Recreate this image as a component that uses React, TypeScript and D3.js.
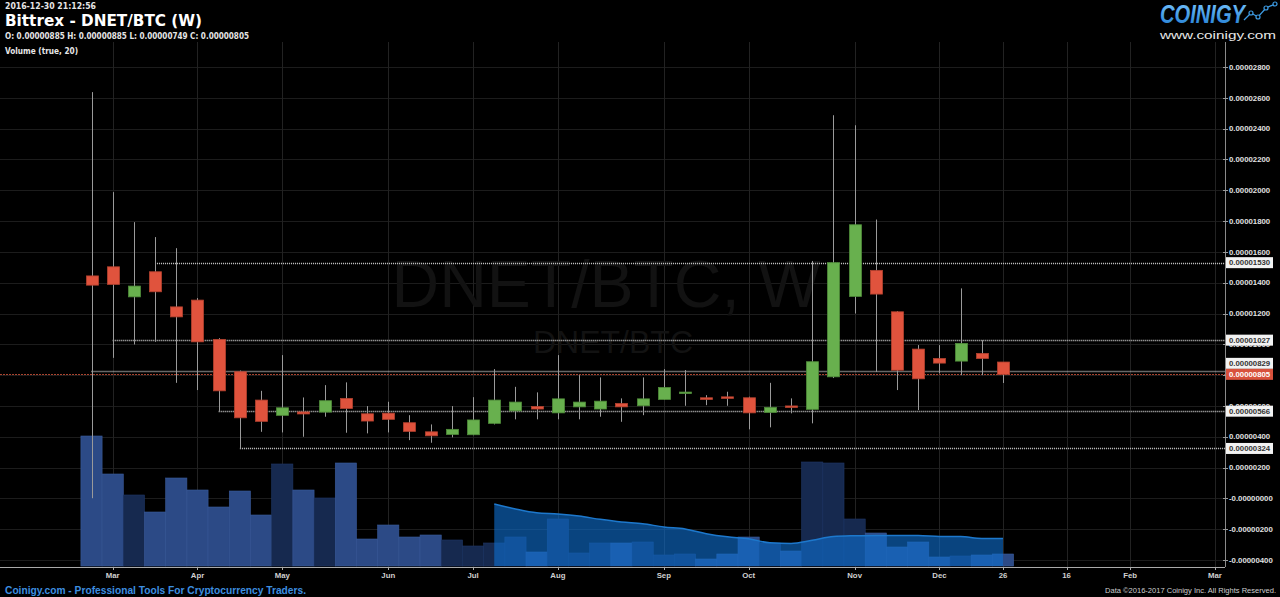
import React from "react";
import * as d3 from "d3";

// ---------- DATA (prices in units of 1e-8 BTC) ----------
const weeks = [
  "2016-02-29","2016-03-07","2016-03-14","2016-03-21","2016-03-28","2016-04-04","2016-04-11","2016-04-18",
  "2016-04-25","2016-05-02","2016-05-09","2016-05-16","2016-05-23","2016-05-30","2016-06-06","2016-06-13",
  "2016-06-20","2016-06-27","2016-07-04","2016-07-11","2016-07-18","2016-07-25","2016-08-01","2016-08-08",
  "2016-08-15","2016-08-22","2016-08-29","2016-09-05","2016-09-12","2016-09-19","2016-09-26","2016-10-03",
  "2016-10-10","2016-10-17","2016-10-24","2016-10-31","2016-11-07","2016-11-14","2016-11-21","2016-11-28",
  "2016-12-05","2016-12-12","2016-12-19","2016-12-26",
];
const opens = [1444,1503,1308,1471,1243,1287,1032,822,638,539,561,560,649,549,553,491,432,415,413,487,568,596,555,594,580,616,601,642,681,653,659,653,558,600,578,789,1311,1480,1211,969,908,891,941,885];
const highs = [2637,1988,1793,1696,1624,1300,1040,830,698,930,655,735,753,599,627,540,480,599,657,839,724,688,930,800,785,649,785,839,833,670,692,660,750,649,1541,2487,2422,1810,1215,995,995,1363,1027,885];
const lows = [1,912,999,1016,750,703,566,324,432,428,400,530,426,422,428,378,361,396,410,480,513,513,513,513,530,497,540,640,601,605,601,448,461,552,487,781,1200,821,703,573,811,800,800,749];
const closes = [1384,1389,1378,1341,1178,1016,698,523,500,588,548,634,584,502,513,435,406,448,509,638,625,580,646,625,631,594,646,720,690,642,649,555,591,595,887,1530,1776,1326,832,776,878,1006,908,805];
const volumes = [13.0,9.2,7.1,5.4,8.8,7.6,5.9,7.5,5.1,10.2,7.6,6.8,10.3,2.7,4.1,2.9,3.1,2.6,2.0,2.3,2.9,1.4,4.7,1.3,2.3,2.3,2.4,1.1,1.2,0.7,1.2,2.9,2.3,1.5,10.4,10.3,4.7,3.3,1.9,2.4,0.9,1.0,1.1,1.2];
const maPeriod = 20;

const yTicks = [-400,-200,0,200,400,600,800,1000,1200,1400,1600,1800,2000,2200,2400,2600,2800];
const xTickDates = ["2016-03-07","2016-04-04","2016-05-02","2016-06-06","2016-07-04","2016-08-01","2016-09-05","2016-10-03","2016-11-07","2016-12-05","2016-12-26","2017-01-16","2017-02-06","2017-03-06"];
const xTickLabels = ["Mar","Apr","May","Jun","Jul","Aug","Sep","Oct","Nov","Dec","26","16","Feb","Mar"];

const levelValues = [1530, 1027, 829, 566, 324];
const levelStarts = ["2016-03-21","2016-03-07","2016-02-29","2016-04-11","2016-04-18"];
const lastPrice = 805;

const title = "Bittrex - DNET/BTC (W)";
const timestamp = "2016-12-30 21:12:56";
const ohlcText = "O: 0.00000885 H: 0.00000885 L: 0.00000749 C: 0.00000805";

// ---------- LAYOUT ----------
const W = 1280, H = 597;
const plotRight = 1225;
const plotTop = 42;
const axisY = 567;

const parse = (s: string) => new Date(s + "T00:00:00Z");

const x = d3.scaleUtc().domain([parse("2016-02-29"), parse("2016-12-26")]).range([91.5, 1003]);
const y = d3.scaleLinear().domain([-400, 2800]).range([560, 67]);
const yVol = d3.scaleLinear().domain([0, 13]).range([566, 436]);

const fmt = (v: number) => (v <= 0 ? "-" : "") + (Math.abs(v) / 1e8).toFixed(8);

const RED = "#e0533d";
const RED_STROKE = "#b3412f";
const GREEN = "#68b04e";
const GREEN_STROKE = "#4f8c3a";
const WICK = "#9a9a9a";

export default function App() {
  const data = weeks.map((w, i) => ({
    date: parse(w), o: opens[i], h: highs[i], l: lows[i], c: closes[i], v: volumes[i],
  }));
  const step = x(parse("2016-03-07")) - x(parse("2016-02-29"));
  const bodyW = 12;

  const ma = data.map((d, i) =>
    i < maPeriod - 1 ? null : d3.mean(volumes.slice(i - maPeriod + 1, i + 1)) as number
  );
  const maPts = data.map((d, i) => ({ x: x(d.date), v: ma[i] })).filter((p) => p.v !== null) as { x: number; v: number }[];
  const area = d3.area<{ x: number; v: number }>().x((p) => p.x).y0(yVol(0)).y1((p) => yVol(p.v)).curve(d3.curveMonotoneX);
  const line = d3.line<{ x: number; v: number }>().x((p) => p.x).y((p) => yVol(p.v)).curve(d3.curveMonotoneX);

  // price labels with simple collision avoidance against the last price label
  const boxH = 11;
  const lastY = y(lastPrice);
  const levelLabels = levelValues.map((v) => {
    let ly = y(v);
    if (Math.abs(ly - lastY) < boxH) ly = ly < lastY ? lastY - boxH : lastY + boxH;
    return { v, ly };
  });

  const font = "'Liberation Sans', Arial, sans-serif";
  const axisFs = 7.8;

  return (
    <svg width={W} height={H} style={{ position: "absolute", left: 0, top: 0, display: "block", background: "#000" }}>
      <rect x={0} y={0} width={W} height={H} fill="#000" />

      {/* grid */}
      {yTicks.map((t) => (
        <line key={"hg" + t} x1={0} x2={plotRight} y1={Math.round(y(t)) + 0.5} y2={Math.round(y(t)) + 0.5} stroke="#1c1c1c" />
      ))}
      {xTickDates.map((d) => (
        <line key={"vg" + d} x1={Math.round(x(parse(d))) + 0.5} x2={Math.round(x(parse(d))) + 0.5} y1={plotTop} y2={axisY} stroke="#222" />
      ))}

      {/* watermark */}
      <text x={606} y={307} textAnchor="middle" fontFamily={font} fontSize={66} fill="#121212">DNET/BTC, W</text>
      <text x={613} y={353} textAnchor="middle" fontFamily={font} fontSize={32} fill="#121212">DNET/BTC</text>

      {/* volume bars */}
      {data.map((d, i) => {
        const cx = x(d.date);
        const up = d.c >= d.o;
        return (
          <rect key={"v" + i} x={cx - step / 2} width={step} y={yVol(d.v)} height={yVol(0) - yVol(d.v)}
            fill={up ? "#16294f" : "#2c4a86"} stroke={up ? "#1f3766" : "#3a5a9a"} strokeWidth={0.6} />
        );
      })}
      {/* volume MA */}
      <path d={area(maPts) || ""} fill="rgba(15,110,205,0.62)" />
      <path d={line(maPts) || ""} fill="none" stroke="#1d78cc" strokeWidth={1.5} />

      {/* level lines */}
      {levelValues.map((v, i) => (
        <line key={"lv" + v} x1={x(parse(levelStarts[i]))} x2={plotRight} y1={Math.round(y(v)) + 0.5} y2={Math.round(y(v)) + 0.5}
          stroke="#cfcfcf" strokeDasharray="1,1" strokeWidth={1.3} />
      ))}
      <line x1={0} x2={plotRight} y1={Math.round(lastY) + 0.5} y2={Math.round(lastY) + 0.5} stroke="#a9432e" strokeWidth={1} strokeDasharray="2,1" />

      {/* candles */}
      {data.map((d, i) => {
        const cx = Math.round(x(d.date)) + 0.5;
        const up = d.c >= d.o;
        const top = y(Math.max(d.o, d.c));
        const bot = y(Math.min(d.o, d.c));
        return (
          <g key={"c" + i}>
            <line x1={cx} x2={cx} y1={y(d.h)} y2={y(d.l)} stroke={WICK} strokeWidth={1} />
            <rect x={cx - bodyW / 2} width={bodyW} y={top} height={Math.max(1.5, bot - top)}
              fill={up ? GREEN : RED} stroke={up ? GREEN_STROKE : RED_STROKE} strokeWidth={0.8} />
          </g>
        );
      })}

      {/* right axis */}
      <line x1={plotRight + 0.5} x2={plotRight + 0.5} y1={plotTop} y2={axisY} stroke="#8a8a8a" />
      {yTicks.map((t) => (
        <g key={"yt" + t}>
          <line x1={plotRight - 2} x2={plotRight + 3} y1={Math.round(y(t)) + 0.5} y2={Math.round(y(t)) + 0.5} stroke="#999" />
          <text x={1229} y={y(t)} dy="0.35em" fontFamily={font} fontWeight="bold" fontSize={axisFs} fill="#e2e2e2">{fmt(t)}</text>
        </g>
      ))}
      {levelLabels.map((l) => (
        <g key={"ll" + l.v}>
          <rect x={1226} y={l.ly - boxH / 2} width={47} height={boxH} fill="#f2f2f2" />
          <text x={1229} y={l.ly} dy="0.35em" fontFamily={font} fontWeight="bold" fontSize={axisFs} fill="#333">{fmt(l.v)}</text>
        </g>
      ))}
      <rect x={1226} y={lastY - boxH / 2} width={47} height={boxH} fill="#d8513c" />
      <text x={1229} y={lastY} dy="0.35em" fontFamily={font} fontWeight="bold" fontSize={axisFs} fill="#fff">{fmt(lastPrice)}</text>

      {/* bottom axis */}
      <line x1={0} x2={plotRight} y1={axisY + 0.5} y2={axisY + 0.5} stroke="#aaa" />
      {xTickDates.map((d, i) => (
        <g key={"xt" + d}>
          <line x1={Math.round(x(parse(d))) + 0.5} x2={Math.round(x(parse(d))) + 0.5} y1={axisY} y2={axisY + 3} stroke="#aaa" />
          <text x={x(parse(d))} y={578} textAnchor="middle" fontFamily={font} fontWeight="bold" fontSize={7.8} fill="#d0d0d0">{xTickLabels[i]}</text>
        </g>
      ))}

      {/* header */}
      <text x={5} y={9} fontFamily="'DejaVu Sans', Verdana, sans-serif" fontWeight="bold" fontSize={8} fill="#e6e6e6" textLength={91} lengthAdjust="spacingAndGlyphs">{timestamp}</text>
      <text x={5} y={26} fontFamily="'DejaVu Sans', Verdana, sans-serif" fontWeight="bold" fontSize={16.5} fill="#fff" textLength={197} lengthAdjust="spacingAndGlyphs">{title}</text>
      <text x={5} y={39} fontFamily="'DejaVu Sans', Verdana, sans-serif" fontWeight="bold" fontSize={8} fill="#e6e6e6" textLength={244} lengthAdjust="spacingAndGlyphs">{ohlcText}</text>
      <text x={5} y={54} fontFamily="'DejaVu Sans', Verdana, sans-serif" fontWeight="bold" fontSize={8} fill="#e6e6e6" textLength={73} lengthAdjust="spacingAndGlyphs">Volume (true, 20)</text>

      {/* logo */}
      <defs>
        <linearGradient id="logoGrad" x1="0" y1="0" x2="0" y2="1">
          <stop offset="0" stopColor="#7cc8ff" />
          <stop offset="1" stopColor="#1c79d0" />
        </linearGradient>
      </defs>
      <text x={1160} y={23} fontFamily="'Liberation Sans Narrow', 'Liberation Sans', Arial, sans-serif" fontWeight="bold" fontStyle="italic" fontSize={26} fill="url(#logoGrad)" textLength={85} lengthAdjust="spacingAndGlyphs">COINIGY</text>
      <polyline points="1244,20 1251,13 1258,17 1266,8 1275,4" fill="none" stroke="#3d9be3" strokeWidth={1.3} />
      {[[1251, 13], [1258, 17], [1266, 8], [1275, 4]].map((p, i) => (
        <circle key={"lc" + i} cx={p[0]} cy={p[1]} r={2} fill="#000" stroke="#3d9be3" strokeWidth={1.2} />
      ))}
      <text x={1160} y={38.5} fontFamily={font} fontSize={10} fill="#e8e8e8" textLength={116} lengthAdjust="spacingAndGlyphs">www.coinigy.com</text>

      {/* footer */}
      <text x={5} y={594} fontFamily={font} fontWeight="bold" fontSize={10} fill="#3d8fe0" textLength={301} lengthAdjust="spacingAndGlyphs">Coinigy.com - Professional Tools For Cryptocurrency Traders.</text>
      <text x={1276} y={593} textAnchor="end" fontFamily={font} fontSize={7} fill="#cfcfcf" textLength={171} lengthAdjust="spacingAndGlyphs">Data ©2016-2017 Coinigy Inc. All Rights Reserved.</text>
    </svg>
  );
}
